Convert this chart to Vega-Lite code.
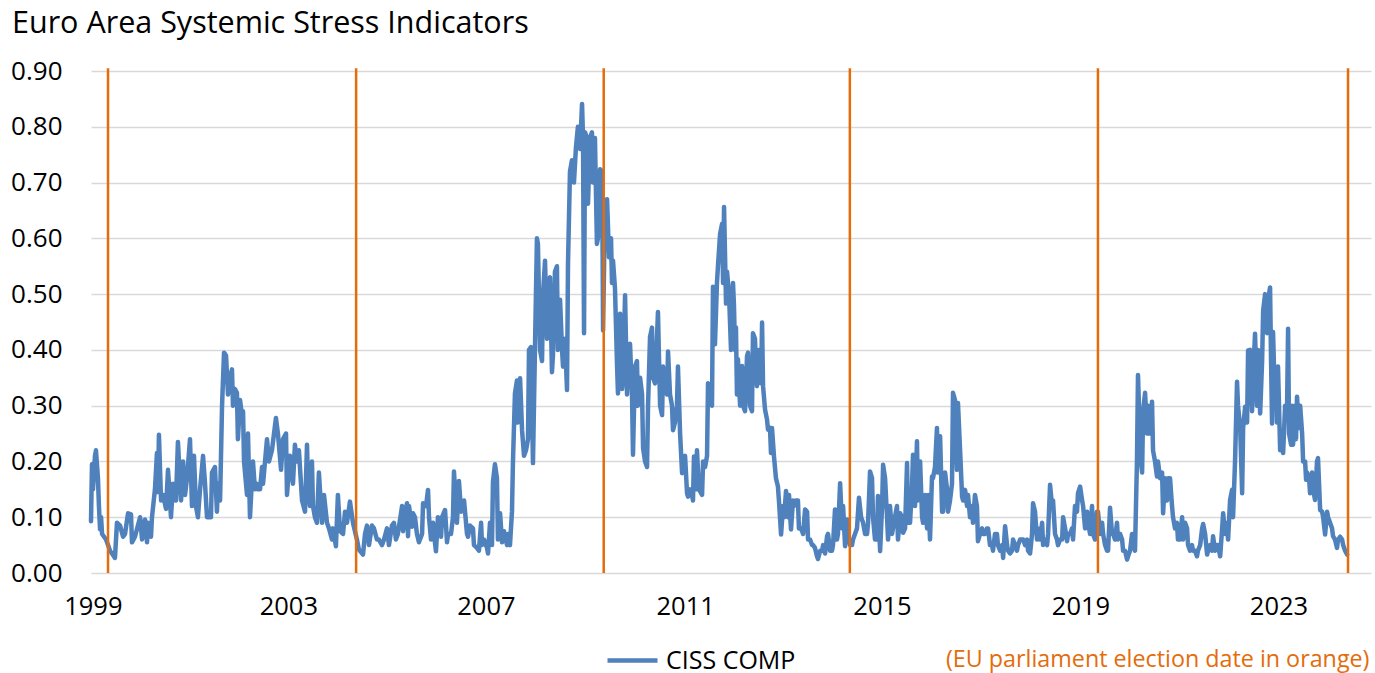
{
  "$schema": "https://vega.github.io/schema/vega-lite/v6.json",
  "width": 1280,
  "height": 502,
  "autosize": {"type": "none"},
  "padding": {"left": 91, "top": 71, "right": 4, "bottom": 100},
  "background": "white",
  "config": {
    "view": {"stroke": null},
    "font": "Open Sans",
    "axis": {"labelFont": "Open Sans", "labelColor": "#000000", "titleFont": "Open Sans"},
    "legend": {"labelFont": "Open Sans"}
  },
  "title": {
    "text": "Euro Area Systemic Stress Indicators",
    "anchor": "start",
    "frame": "group",
    "font": "Open Sans",
    "fontSize": 30.5,
    "fontWeight": "normal",
    "color": "#000000",
    "dx": -79,
    "offset": 19
  },
  "datasets": {
    "ciss": [
      {"year": 1999.097, "ciss": 0.093}, {"year": 1999.117, "ciss": 0.195}, {"year": 1999.137, "ciss": 0.15}, {"year": 1999.177, "ciss": 0.21}, {"year": 1999.197, "ciss": 0.22}, {"year": 1999.237, "ciss": 0.17}, {"year": 1999.257, "ciss": 0.12}, {"year": 1999.28, "ciss": 0.078}, {"year": 1999.3, "ciss": 0.1}, {"year": 1999.32, "ciss": 0.07}, {"year": 1999.36, "ciss": 0.065}, {"year": 1999.4, "ciss": 0.06}, {"year": 1999.44, "ciss": 0.05}, {"year": 1999.48, "ciss": 0.04}, {"year": 1999.52, "ciss": 0.035}, {"year": 1999.58, "ciss": 0.027}, {"year": 1999.62, "ciss": 0.09}, {"year": 1999.683, "ciss": 0.085}, {"year": 1999.743, "ciss": 0.065}, {"year": 1999.783, "ciss": 0.07}, {"year": 1999.843, "ciss": 0.107}, {"year": 1999.903, "ciss": 0.105}, {"year": 1999.923, "ciss": 0.055}, {"year": 1999.983, "ciss": 0.065},
      {"year": 2000.086, "ciss": 0.1}, {"year": 2000.126, "ciss": 0.06}, {"year": 2000.186, "ciss": 0.096}, {"year": 2000.226, "ciss": 0.055}, {"year": 2000.246, "ciss": 0.09}, {"year": 2000.306, "ciss": 0.065}, {"year": 2000.326, "ciss": 0.1}, {"year": 2000.386, "ciss": 0.15}, {"year": 2000.426, "ciss": 0.215}, {"year": 2000.446, "ciss": 0.145}, {"year": 2000.466, "ciss": 0.248}, {"year": 2000.509, "ciss": 0.13}, {"year": 2000.549, "ciss": 0.14}, {"year": 2000.609, "ciss": 0.115}, {"year": 2000.649, "ciss": 0.185}, {"year": 2000.709, "ciss": 0.1}, {"year": 2000.749, "ciss": 0.16}, {"year": 2000.809, "ciss": 0.13}, {"year": 2000.849, "ciss": 0.235}, {"year": 2000.912, "ciss": 0.13}, {"year": 2000.952, "ciss": 0.2}, {"year": 2000.992, "ciss": 0.14},
      {"year": 2001.032, "ciss": 0.17}, {"year": 2001.092, "ciss": 0.24}, {"year": 2001.132, "ciss": 0.12}, {"year": 2001.172, "ciss": 0.21}, {"year": 2001.212, "ciss": 0.12}, {"year": 2001.252, "ciss": 0.1}, {"year": 2001.295, "ciss": 0.15}, {"year": 2001.355, "ciss": 0.21}, {"year": 2001.395, "ciss": 0.16}, {"year": 2001.435, "ciss": 0.1}, {"year": 2001.515, "ciss": 0.1}, {"year": 2001.535, "ciss": 0.18}, {"year": 2001.595, "ciss": 0.19}, {"year": 2001.635, "ciss": 0.11}, {"year": 2001.655, "ciss": 0.16}, {"year": 2001.698, "ciss": 0.13}, {"year": 2001.738, "ciss": 0.3}, {"year": 2001.778, "ciss": 0.395}, {"year": 2001.818, "ciss": 0.39}, {"year": 2001.858, "ciss": 0.32}, {"year": 2001.898, "ciss": 0.35}, {"year": 2001.938, "ciss": 0.365}, {"year": 2001.958, "ciss": 0.3}, {"year": 2001.998, "ciss": 0.33},
      {"year": 2002.038, "ciss": 0.323}, {"year": 2002.058, "ciss": 0.24}, {"year": 2002.101, "ciss": 0.31}, {"year": 2002.141, "ciss": 0.28}, {"year": 2002.161, "ciss": 0.29}, {"year": 2002.181, "ciss": 0.2}, {"year": 2002.241, "ciss": 0.14}, {"year": 2002.261, "ciss": 0.25}, {"year": 2002.301, "ciss": 0.1}, {"year": 2002.361, "ciss": 0.2}, {"year": 2002.401, "ciss": 0.15}, {"year": 2002.441, "ciss": 0.16}, {"year": 2002.461, "ciss": 0.15}, {"year": 2002.504, "ciss": 0.15}, {"year": 2002.544, "ciss": 0.19}, {"year": 2002.564, "ciss": 0.16}, {"year": 2002.644, "ciss": 0.24}, {"year": 2002.684, "ciss": 0.2}, {"year": 2002.744, "ciss": 0.22}, {"year": 2002.824, "ciss": 0.278}, {"year": 2002.864, "ciss": 0.25}, {"year": 2002.927, "ciss": 0.185}, {"year": 2002.967, "ciss": 0.24},
      {"year": 2003.027, "ciss": 0.25}, {"year": 2003.047, "ciss": 0.14}, {"year": 2003.107, "ciss": 0.21}, {"year": 2003.167, "ciss": 0.16}, {"year": 2003.207, "ciss": 0.23}, {"year": 2003.247, "ciss": 0.2}, {"year": 2003.287, "ciss": 0.22}, {"year": 2003.35, "ciss": 0.13}, {"year": 2003.41, "ciss": 0.11}, {"year": 2003.45, "ciss": 0.23}, {"year": 2003.47, "ciss": 0.16}, {"year": 2003.51, "ciss": 0.12}, {"year": 2003.55, "ciss": 0.2}, {"year": 2003.57, "ciss": 0.12}, {"year": 2003.61, "ciss": 0.1}, {"year": 2003.65, "ciss": 0.09}, {"year": 2003.69, "ciss": 0.18}, {"year": 2003.753, "ciss": 0.09}, {"year": 2003.793, "ciss": 0.14}, {"year": 2003.853, "ciss": 0.09}, {"year": 2003.893, "ciss": 0.08}, {"year": 2003.953, "ciss": 0.06}, {"year": 2003.973, "ciss": 0.08},
      {"year": 2004.033, "ciss": 0.048}, {"year": 2004.073, "ciss": 0.14}, {"year": 2004.116, "ciss": 0.075}, {"year": 2004.176, "ciss": 0.07}, {"year": 2004.216, "ciss": 0.11}, {"year": 2004.256, "ciss": 0.09}, {"year": 2004.316, "ciss": 0.128}, {"year": 2004.376, "ciss": 0.09}, {"year": 2004.456, "ciss": 0.06}, {"year": 2004.496, "ciss": 0.042}, {"year": 2004.579, "ciss": 0.033}, {"year": 2004.619, "ciss": 0.07}, {"year": 2004.659, "ciss": 0.085}, {"year": 2004.699, "ciss": 0.05}, {"year": 2004.759, "ciss": 0.085}, {"year": 2004.799, "ciss": 0.08}, {"year": 2004.859, "ciss": 0.06}, {"year": 2004.899, "ciss": 0.06}, {"year": 2004.962, "ciss": 0.05},
      {"year": 2005.002, "ciss": 0.06}, {"year": 2005.062, "ciss": 0.08}, {"year": 2005.102, "ciss": 0.05}, {"year": 2005.162, "ciss": 0.085}, {"year": 2005.202, "ciss": 0.09}, {"year": 2005.242, "ciss": 0.06}, {"year": 2005.282, "ciss": 0.07}, {"year": 2005.366, "ciss": 0.12}, {"year": 2005.386, "ciss": 0.075}, {"year": 2005.426, "ciss": 0.11}, {"year": 2005.466, "ciss": 0.125}, {"year": 2005.486, "ciss": 0.066}, {"year": 2005.506, "ciss": 0.12}, {"year": 2005.566, "ciss": 0.083}, {"year": 2005.586, "ciss": 0.107}, {"year": 2005.626, "ciss": 0.1}, {"year": 2005.666, "ciss": 0.07}, {"year": 2005.706, "ciss": 0.055}, {"year": 2005.769, "ciss": 0.07}, {"year": 2005.789, "ciss": 0.125}, {"year": 2005.849, "ciss": 0.12}, {"year": 2005.889, "ciss": 0.149}, {"year": 2005.909, "ciss": 0.1}, {"year": 2005.949, "ciss": 0.06}, {"year": 2005.989, "ciss": 0.09},
      {"year": 2006.009, "ciss": 0.07}, {"year": 2006.049, "ciss": 0.039}, {"year": 2006.089, "ciss": 0.1}, {"year": 2006.152, "ciss": 0.065}, {"year": 2006.172, "ciss": 0.1}, {"year": 2006.232, "ciss": 0.113}, {"year": 2006.272, "ciss": 0.055}, {"year": 2006.292, "ciss": 0.07}, {"year": 2006.352, "ciss": 0.07}, {"year": 2006.392, "ciss": 0.1}, {"year": 2006.412, "ciss": 0.182}, {"year": 2006.472, "ciss": 0.09}, {"year": 2006.512, "ciss": 0.165}, {"year": 2006.555, "ciss": 0.11}, {"year": 2006.615, "ciss": 0.13}, {"year": 2006.675, "ciss": 0.07}, {"year": 2006.695, "ciss": 0.065}, {"year": 2006.735, "ciss": 0.085}, {"year": 2006.795, "ciss": 0.08}, {"year": 2006.815, "ciss": 0.05}, {"year": 2006.875, "ciss": 0.045}, {"year": 2006.915, "ciss": 0.04}, {"year": 2006.958, "ciss": 0.09}, {"year": 2006.978, "ciss": 0.05},
      {"year": 2007.018, "ciss": 0.06}, {"year": 2007.078, "ciss": 0.045}, {"year": 2007.098, "ciss": 0.035}, {"year": 2007.138, "ciss": 0.09}, {"year": 2007.178, "ciss": 0.05}, {"year": 2007.198, "ciss": 0.164}, {"year": 2007.238, "ciss": 0.195}, {"year": 2007.278, "ciss": 0.17}, {"year": 2007.298, "ciss": 0.06}, {"year": 2007.341, "ciss": 0.107}, {"year": 2007.381, "ciss": 0.055}, {"year": 2007.421, "ciss": 0.075}, {"year": 2007.481, "ciss": 0.05}, {"year": 2007.501, "ciss": 0.07}, {"year": 2007.541, "ciss": 0.05}, {"year": 2007.581, "ciss": 0.11}, {"year": 2007.601, "ciss": 0.2}, {"year": 2007.641, "ciss": 0.322}, {"year": 2007.681, "ciss": 0.345}, {"year": 2007.701, "ciss": 0.27}, {"year": 2007.744, "ciss": 0.349}, {"year": 2007.784, "ciss": 0.256}, {"year": 2007.824, "ciss": 0.21}, {"year": 2007.864, "ciss": 0.22}, {"year": 2007.904, "ciss": 0.24}, {"year": 2007.924, "ciss": 0.4}, {"year": 2007.964, "ciss": 0.405},
      {"year": 2008.004, "ciss": 0.197}, {"year": 2008.044, "ciss": 0.4}, {"year": 2008.084, "ciss": 0.6}, {"year": 2008.104, "ciss": 0.59}, {"year": 2008.147, "ciss": 0.4}, {"year": 2008.187, "ciss": 0.38}, {"year": 2008.207, "ciss": 0.5}, {"year": 2008.247, "ciss": 0.56}, {"year": 2008.287, "ciss": 0.42}, {"year": 2008.307, "ciss": 0.52}, {"year": 2008.347, "ciss": 0.53}, {"year": 2008.387, "ciss": 0.36}, {"year": 2008.407, "ciss": 0.39}, {"year": 2008.447, "ciss": 0.54}, {"year": 2008.487, "ciss": 0.55}, {"year": 2008.507, "ciss": 0.4}, {"year": 2008.55, "ciss": 0.49}, {"year": 2008.59, "ciss": 0.4}, {"year": 2008.61, "ciss": 0.37}, {"year": 2008.65, "ciss": 0.42}, {"year": 2008.69, "ciss": 0.328}, {"year": 2008.71, "ciss": 0.555}, {"year": 2008.75, "ciss": 0.72}, {"year": 2008.79, "ciss": 0.74}, {"year": 2008.81, "ciss": 0.72}, {"year": 2008.83, "ciss": 0.7}, {"year": 2008.87, "ciss": 0.763}, {"year": 2008.91, "ciss": 0.8}, {"year": 2008.953, "ciss": 0.76}, {"year": 2008.993, "ciss": 0.841},
      {"year": 2009.013, "ciss": 0.78}, {"year": 2009.033, "ciss": 0.43}, {"year": 2009.053, "ciss": 0.79}, {"year": 2009.093, "ciss": 0.78}, {"year": 2009.113, "ciss": 0.662}, {"year": 2009.153, "ciss": 0.78}, {"year": 2009.193, "ciss": 0.79}, {"year": 2009.213, "ciss": 0.7}, {"year": 2009.253, "ciss": 0.78}, {"year": 2009.293, "ciss": 0.59}, {"year": 2009.313, "ciss": 0.6}, {"year": 2009.357, "ciss": 0.724}, {"year": 2009.397, "ciss": 0.72}, {"year": 2009.417, "ciss": 0.435}, {"year": 2009.457, "ciss": 0.668}, {"year": 2009.497, "ciss": 0.67}, {"year": 2009.537, "ciss": 0.566}, {"year": 2009.577, "ciss": 0.6}, {"year": 2009.597, "ciss": 0.52}, {"year": 2009.617, "ciss": 0.56}, {"year": 2009.657, "ciss": 0.51}, {"year": 2009.697, "ciss": 0.376}, {"year": 2009.717, "ciss": 0.322}, {"year": 2009.76, "ciss": 0.465}, {"year": 2009.8, "ciss": 0.33}, {"year": 2009.82, "ciss": 0.35}, {"year": 2009.86, "ciss": 0.498}, {"year": 2009.9, "ciss": 0.32}, {"year": 2009.92, "ciss": 0.37}, {"year": 2009.96, "ciss": 0.411},
      {"year": 2010.0, "ciss": 0.32}, {"year": 2010.02, "ciss": 0.212}, {"year": 2010.06, "ciss": 0.37}, {"year": 2010.1, "ciss": 0.38}, {"year": 2010.12, "ciss": 0.3}, {"year": 2010.163, "ciss": 0.35}, {"year": 2010.203, "ciss": 0.32}, {"year": 2010.223, "ciss": 0.224}, {"year": 2010.263, "ciss": 0.2}, {"year": 2010.303, "ciss": 0.19}, {"year": 2010.323, "ciss": 0.3}, {"year": 2010.363, "ciss": 0.423}, {"year": 2010.403, "ciss": 0.44}, {"year": 2010.423, "ciss": 0.35}, {"year": 2010.463, "ciss": 0.34}, {"year": 2010.503, "ciss": 0.42}, {"year": 2010.523, "ciss": 0.468}, {"year": 2010.566, "ciss": 0.3}, {"year": 2010.606, "ciss": 0.283}, {"year": 2010.626, "ciss": 0.37}, {"year": 2010.666, "ciss": 0.33}, {"year": 2010.706, "ciss": 0.32}, {"year": 2010.726, "ciss": 0.397}, {"year": 2010.766, "ciss": 0.32}, {"year": 2010.806, "ciss": 0.3}, {"year": 2010.826, "ciss": 0.256}, {"year": 2010.866, "ciss": 0.27}, {"year": 2010.906, "ciss": 0.3}, {"year": 2010.926, "ciss": 0.37}, {"year": 2010.969, "ciss": 0.25},
      {"year": 2011.009, "ciss": 0.179}, {"year": 2011.029, "ciss": 0.2}, {"year": 2011.069, "ciss": 0.21}, {"year": 2011.109, "ciss": 0.143}, {"year": 2011.129, "ciss": 0.137}, {"year": 2011.169, "ciss": 0.15}, {"year": 2011.209, "ciss": 0.14}, {"year": 2011.229, "ciss": 0.13}, {"year": 2011.249, "ciss": 0.209}, {"year": 2011.289, "ciss": 0.15}, {"year": 2011.309, "ciss": 0.22}, {"year": 2011.349, "ciss": 0.15}, {"year": 2011.412, "ciss": 0.14}, {"year": 2011.432, "ciss": 0.2}, {"year": 2011.472, "ciss": 0.19}, {"year": 2011.512, "ciss": 0.21}, {"year": 2011.532, "ciss": 0.34}, {"year": 2011.572, "ciss": 0.33}, {"year": 2011.612, "ciss": 0.3}, {"year": 2011.632, "ciss": 0.513}, {"year": 2011.672, "ciss": 0.41}, {"year": 2011.712, "ciss": 0.52}, {"year": 2011.732, "ciss": 0.55}, {"year": 2011.775, "ciss": 0.608}, {"year": 2011.815, "ciss": 0.626}, {"year": 2011.835, "ciss": 0.52}, {"year": 2011.855, "ciss": 0.656}, {"year": 2011.895, "ciss": 0.483}, {"year": 2011.915, "ciss": 0.54}, {"year": 2011.955, "ciss": 0.5}, {"year": 2011.995, "ciss": 0.4},
      {"year": 2012.035, "ciss": 0.52}, {"year": 2012.055, "ciss": 0.48}, {"year": 2012.075, "ciss": 0.4}, {"year": 2012.095, "ciss": 0.44}, {"year": 2012.115, "ciss": 0.32}, {"year": 2012.135, "ciss": 0.383}, {"year": 2012.178, "ciss": 0.3}, {"year": 2012.218, "ciss": 0.371}, {"year": 2012.238, "ciss": 0.3}, {"year": 2012.278, "ciss": 0.29}, {"year": 2012.318, "ciss": 0.389}, {"year": 2012.338, "ciss": 0.395}, {"year": 2012.378, "ciss": 0.3}, {"year": 2012.418, "ciss": 0.29}, {"year": 2012.438, "ciss": 0.43}, {"year": 2012.478, "ciss": 0.42}, {"year": 2012.518, "ciss": 0.335}, {"year": 2012.558, "ciss": 0.4}, {"year": 2012.601, "ciss": 0.34}, {"year": 2012.621, "ciss": 0.449}, {"year": 2012.641, "ciss": 0.335}, {"year": 2012.681, "ciss": 0.293}, {"year": 2012.721, "ciss": 0.275}, {"year": 2012.741, "ciss": 0.257}, {"year": 2012.781, "ciss": 0.26}, {"year": 2012.801, "ciss": 0.215}, {"year": 2012.821, "ciss": 0.26}, {"year": 2012.861, "ciss": 0.209}, {"year": 2012.901, "ciss": 0.17}, {"year": 2012.941, "ciss": 0.155}, {"year": 2012.961, "ciss": 0.13},
      {"year": 2013.004, "ciss": 0.069}, {"year": 2013.044, "ciss": 0.12}, {"year": 2013.064, "ciss": 0.1}, {"year": 2013.104, "ciss": 0.147}, {"year": 2013.144, "ciss": 0.1}, {"year": 2013.164, "ciss": 0.14}, {"year": 2013.204, "ciss": 0.078}, {"year": 2013.244, "ciss": 0.13}, {"year": 2013.264, "ciss": 0.12}, {"year": 2013.304, "ciss": 0.13}, {"year": 2013.344, "ciss": 0.13}, {"year": 2013.364, "ciss": 0.08}, {"year": 2013.408, "ciss": 0.08}, {"year": 2013.448, "ciss": 0.07}, {"year": 2013.488, "ciss": 0.114}, {"year": 2013.528, "ciss": 0.11}, {"year": 2013.548, "ciss": 0.06}, {"year": 2013.588, "ciss": 0.06}, {"year": 2013.628, "ciss": 0.05}, {"year": 2013.648, "ciss": 0.05}, {"year": 2013.688, "ciss": 0.045}, {"year": 2013.728, "ciss": 0.03}, {"year": 2013.748, "ciss": 0.025}, {"year": 2013.791, "ciss": 0.04}, {"year": 2013.831, "ciss": 0.04}, {"year": 2013.851, "ciss": 0.05}, {"year": 2013.891, "ciss": 0.035}, {"year": 2013.931, "ciss": 0.066}, {"year": 2013.951, "ciss": 0.07}, {"year": 2013.991, "ciss": 0.04},
      {"year": 2014.031, "ciss": 0.04}, {"year": 2014.051, "ciss": 0.05}, {"year": 2014.091, "ciss": 0.114}, {"year": 2014.131, "ciss": 0.06}, {"year": 2014.151, "ciss": 0.07}, {"year": 2014.194, "ciss": 0.161}, {"year": 2014.234, "ciss": 0.08}, {"year": 2014.254, "ciss": 0.12}, {"year": 2014.294, "ciss": 0.048}, {"year": 2014.334, "ciss": 0.096}, {"year": 2014.354, "ciss": 0.07}, {"year": 2014.394, "ciss": 0.05}, {"year": 2014.434, "ciss": 0.05}, {"year": 2014.454, "ciss": 0.06}, {"year": 2014.494, "ciss": 0.07}, {"year": 2014.534, "ciss": 0.08}, {"year": 2014.574, "ciss": 0.135}, {"year": 2014.617, "ciss": 0.1}, {"year": 2014.657, "ciss": 0.09}, {"year": 2014.697, "ciss": 0.07}, {"year": 2014.737, "ciss": 0.07}, {"year": 2014.757, "ciss": 0.09}, {"year": 2014.797, "ciss": 0.182}, {"year": 2014.837, "ciss": 0.17}, {"year": 2014.857, "ciss": 0.1}, {"year": 2014.897, "ciss": 0.06}, {"year": 2014.937, "ciss": 0.06}, {"year": 2014.957, "ciss": 0.138},
      {"year": 2015.0, "ciss": 0.039}, {"year": 2015.04, "ciss": 0.12}, {"year": 2015.06, "ciss": 0.194}, {"year": 2015.1, "ciss": 0.17}, {"year": 2015.14, "ciss": 0.1}, {"year": 2015.16, "ciss": 0.06}, {"year": 2015.2, "ciss": 0.12}, {"year": 2015.24, "ciss": 0.07}, {"year": 2015.3, "ciss": 0.1}, {"year": 2015.34, "ciss": 0.12}, {"year": 2015.36, "ciss": 0.06}, {"year": 2015.403, "ciss": 0.107}, {"year": 2015.443, "ciss": 0.1}, {"year": 2015.463, "ciss": 0.072}, {"year": 2015.503, "ciss": 0.08}, {"year": 2015.543, "ciss": 0.197}, {"year": 2015.563, "ciss": 0.09}, {"year": 2015.603, "ciss": 0.09}, {"year": 2015.643, "ciss": 0.155}, {"year": 2015.663, "ciss": 0.212}, {"year": 2015.703, "ciss": 0.12}, {"year": 2015.743, "ciss": 0.236}, {"year": 2015.763, "ciss": 0.13}, {"year": 2015.806, "ciss": 0.2}, {"year": 2015.846, "ciss": 0.1}, {"year": 2015.866, "ciss": 0.09}, {"year": 2015.906, "ciss": 0.14}, {"year": 2015.946, "ciss": 0.08}, {"year": 2015.966, "ciss": 0.14},
      {"year": 2016.006, "ciss": 0.06}, {"year": 2016.046, "ciss": 0.173}, {"year": 2016.066, "ciss": 0.17}, {"year": 2016.106, "ciss": 0.19}, {"year": 2016.146, "ciss": 0.26}, {"year": 2016.166, "ciss": 0.18}, {"year": 2016.209, "ciss": 0.245}, {"year": 2016.249, "ciss": 0.11}, {"year": 2016.269, "ciss": 0.11}, {"year": 2016.309, "ciss": 0.18}, {"year": 2016.349, "ciss": 0.15}, {"year": 2016.369, "ciss": 0.11}, {"year": 2016.409, "ciss": 0.13}, {"year": 2016.449, "ciss": 0.16}, {"year": 2016.469, "ciss": 0.323}, {"year": 2016.509, "ciss": 0.31}, {"year": 2016.549, "ciss": 0.185}, {"year": 2016.569, "ciss": 0.305}, {"year": 2016.612, "ciss": 0.22}, {"year": 2016.652, "ciss": 0.137}, {"year": 2016.672, "ciss": 0.13}, {"year": 2016.712, "ciss": 0.149}, {"year": 2016.752, "ciss": 0.12}, {"year": 2016.772, "ciss": 0.14}, {"year": 2016.812, "ciss": 0.1}, {"year": 2016.852, "ciss": 0.12}, {"year": 2016.872, "ciss": 0.09}, {"year": 2016.912, "ciss": 0.14}, {"year": 2016.952, "ciss": 0.12}, {"year": 2016.972, "ciss": 0.057},
      {"year": 2017.015, "ciss": 0.07}, {"year": 2017.055, "ciss": 0.08}, {"year": 2017.075, "ciss": 0.07}, {"year": 2017.115, "ciss": 0.07}, {"year": 2017.155, "ciss": 0.08}, {"year": 2017.175, "ciss": 0.08}, {"year": 2017.215, "ciss": 0.05}, {"year": 2017.255, "ciss": 0.05}, {"year": 2017.275, "ciss": 0.04}, {"year": 2017.315, "ciss": 0.07}, {"year": 2017.355, "ciss": 0.07}, {"year": 2017.375, "ciss": 0.05}, {"year": 2017.419, "ciss": 0.04}, {"year": 2017.459, "ciss": 0.05}, {"year": 2017.479, "ciss": 0.027}, {"year": 2017.519, "ciss": 0.084}, {"year": 2017.559, "ciss": 0.05}, {"year": 2017.579, "ciss": 0.04}, {"year": 2017.619, "ciss": 0.035}, {"year": 2017.659, "ciss": 0.04}, {"year": 2017.679, "ciss": 0.06}, {"year": 2017.719, "ciss": 0.05}, {"year": 2017.759, "ciss": 0.04}, {"year": 2017.779, "ciss": 0.05}, {"year": 2017.822, "ciss": 0.06}, {"year": 2017.862, "ciss": 0.06}, {"year": 2017.882, "ciss": 0.06}, {"year": 2017.922, "ciss": 0.05}, {"year": 2017.962, "ciss": 0.06}, {"year": 2017.982, "ciss": 0.04},
      {"year": 2018.022, "ciss": 0.035}, {"year": 2018.062, "ciss": 0.07}, {"year": 2018.082, "ciss": 0.125}, {"year": 2018.122, "ciss": 0.11}, {"year": 2018.162, "ciss": 0.06}, {"year": 2018.182, "ciss": 0.08}, {"year": 2018.225, "ciss": 0.06}, {"year": 2018.265, "ciss": 0.09}, {"year": 2018.285, "ciss": 0.05}, {"year": 2018.325, "ciss": 0.06}, {"year": 2018.365, "ciss": 0.05}, {"year": 2018.385, "ciss": 0.07}, {"year": 2018.425, "ciss": 0.158}, {"year": 2018.465, "ciss": 0.12}, {"year": 2018.485, "ciss": 0.13}, {"year": 2018.525, "ciss": 0.07}, {"year": 2018.565, "ciss": 0.06}, {"year": 2018.585, "ciss": 0.05}, {"year": 2018.628, "ciss": 0.06}, {"year": 2018.668, "ciss": 0.06}, {"year": 2018.688, "ciss": 0.1}, {"year": 2018.728, "ciss": 0.08}, {"year": 2018.768, "ciss": 0.057}, {"year": 2018.788, "ciss": 0.07}, {"year": 2018.828, "ciss": 0.07}, {"year": 2018.868, "ciss": 0.08}, {"year": 2018.888, "ciss": 0.06}, {"year": 2018.928, "ciss": 0.12}, {"year": 2018.968, "ciss": 0.11}, {"year": 2018.988, "ciss": 0.143},
      {"year": 2019.031, "ciss": 0.155}, {"year": 2019.071, "ciss": 0.13}, {"year": 2019.091, "ciss": 0.12}, {"year": 2019.131, "ciss": 0.08}, {"year": 2019.171, "ciss": 0.11}, {"year": 2019.191, "ciss": 0.09}, {"year": 2019.231, "ciss": 0.07}, {"year": 2019.271, "ciss": 0.12}, {"year": 2019.291, "ciss": 0.07}, {"year": 2019.331, "ciss": 0.06}, {"year": 2019.371, "ciss": 0.11}, {"year": 2019.391, "ciss": 0.11}, {"year": 2019.434, "ciss": 0.07}, {"year": 2019.474, "ciss": 0.09}, {"year": 2019.494, "ciss": 0.07}, {"year": 2019.534, "ciss": 0.05}, {"year": 2019.574, "ciss": 0.04}, {"year": 2019.594, "ciss": 0.04}, {"year": 2019.634, "ciss": 0.117}, {"year": 2019.674, "ciss": 0.07}, {"year": 2019.694, "ciss": 0.07}, {"year": 2019.734, "ciss": 0.06}, {"year": 2019.774, "ciss": 0.09}, {"year": 2019.794, "ciss": 0.06}, {"year": 2019.837, "ciss": 0.07}, {"year": 2019.877, "ciss": 0.06}, {"year": 2019.897, "ciss": 0.04}, {"year": 2019.937, "ciss": 0.04}, {"year": 2019.977, "ciss": 0.024}, {"year": 2019.997, "ciss": 0.03},
      {"year": 2020.037, "ciss": 0.04}, {"year": 2020.077, "ciss": 0.07}, {"year": 2020.097, "ciss": 0.05}, {"year": 2020.137, "ciss": 0.04}, {"year": 2020.177, "ciss": 0.203}, {"year": 2020.197, "ciss": 0.355}, {"year": 2020.217, "ciss": 0.3}, {"year": 2020.26, "ciss": 0.197}, {"year": 2020.28, "ciss": 0.18}, {"year": 2020.3, "ciss": 0.29}, {"year": 2020.34, "ciss": 0.323}, {"year": 2020.38, "ciss": 0.25}, {"year": 2020.4, "ciss": 0.3}, {"year": 2020.44, "ciss": 0.25}, {"year": 2020.48, "ciss": 0.307}, {"year": 2020.5, "ciss": 0.22}, {"year": 2020.54, "ciss": 0.2}, {"year": 2020.58, "ciss": 0.173}, {"year": 2020.6, "ciss": 0.2}, {"year": 2020.643, "ciss": 0.17}, {"year": 2020.683, "ciss": 0.18}, {"year": 2020.703, "ciss": 0.107}, {"year": 2020.743, "ciss": 0.17}, {"year": 2020.783, "ciss": 0.13}, {"year": 2020.803, "ciss": 0.17}, {"year": 2020.843, "ciss": 0.17}, {"year": 2020.883, "ciss": 0.12}, {"year": 2020.903, "ciss": 0.1}, {"year": 2020.943, "ciss": 0.08}, {"year": 2020.983, "ciss": 0.09},
      {"year": 2021.003, "ciss": 0.06}, {"year": 2021.046, "ciss": 0.06}, {"year": 2021.086, "ciss": 0.1}, {"year": 2021.106, "ciss": 0.06}, {"year": 2021.146, "ciss": 0.09}, {"year": 2021.186, "ciss": 0.08}, {"year": 2021.206, "ciss": 0.05}, {"year": 2021.246, "ciss": 0.04}, {"year": 2021.286, "ciss": 0.05}, {"year": 2021.306, "ciss": 0.04}, {"year": 2021.346, "ciss": 0.04}, {"year": 2021.386, "ciss": 0.03}, {"year": 2021.406, "ciss": 0.04}, {"year": 2021.45, "ciss": 0.05}, {"year": 2021.49, "ciss": 0.08}, {"year": 2021.51, "ciss": 0.088}, {"year": 2021.55, "ciss": 0.07}, {"year": 2021.59, "ciss": 0.033}, {"year": 2021.61, "ciss": 0.04}, {"year": 2021.65, "ciss": 0.05}, {"year": 2021.69, "ciss": 0.04}, {"year": 2021.71, "ciss": 0.066}, {"year": 2021.75, "ciss": 0.04}, {"year": 2021.79, "ciss": 0.05}, {"year": 2021.81, "ciss": 0.05}, {"year": 2021.853, "ciss": 0.03}, {"year": 2021.893, "ciss": 0.08}, {"year": 2021.913, "ciss": 0.107}, {"year": 2021.953, "ciss": 0.07}, {"year": 2021.993, "ciss": 0.09},
      {"year": 2022.013, "ciss": 0.06}, {"year": 2022.053, "ciss": 0.131}, {"year": 2022.093, "ciss": 0.149}, {"year": 2022.113, "ciss": 0.1}, {"year": 2022.153, "ciss": 0.2}, {"year": 2022.193, "ciss": 0.343}, {"year": 2022.213, "ciss": 0.3}, {"year": 2022.256, "ciss": 0.262}, {"year": 2022.296, "ciss": 0.143}, {"year": 2022.316, "ciss": 0.26}, {"year": 2022.356, "ciss": 0.298}, {"year": 2022.396, "ciss": 0.27}, {"year": 2022.416, "ciss": 0.399}, {"year": 2022.456, "ciss": 0.4}, {"year": 2022.496, "ciss": 0.29}, {"year": 2022.516, "ciss": 0.35}, {"year": 2022.556, "ciss": 0.429}, {"year": 2022.596, "ciss": 0.3}, {"year": 2022.616, "ciss": 0.4}, {"year": 2022.659, "ciss": 0.286}, {"year": 2022.699, "ciss": 0.381}, {"year": 2022.719, "ciss": 0.47}, {"year": 2022.759, "ciss": 0.5}, {"year": 2022.799, "ciss": 0.43}, {"year": 2022.819, "ciss": 0.49}, {"year": 2022.859, "ciss": 0.512}, {"year": 2022.879, "ciss": 0.38}, {"year": 2022.899, "ciss": 0.268}, {"year": 2022.919, "ciss": 0.432}, {"year": 2022.959, "ciss": 0.3}, {"year": 2022.979, "ciss": 0.34}, {"year": 2022.999, "ciss": 0.27},
      {"year": 2023.019, "ciss": 0.37}, {"year": 2023.062, "ciss": 0.22}, {"year": 2023.102, "ciss": 0.25}, {"year": 2023.122, "ciss": 0.215}, {"year": 2023.162, "ciss": 0.3}, {"year": 2023.202, "ciss": 0.3}, {"year": 2023.222, "ciss": 0.438}, {"year": 2023.242, "ciss": 0.25}, {"year": 2023.282, "ciss": 0.23}, {"year": 2023.302, "ciss": 0.3}, {"year": 2023.322, "ciss": 0.23}, {"year": 2023.362, "ciss": 0.3}, {"year": 2023.382, "ciss": 0.24}, {"year": 2023.402, "ciss": 0.316}, {"year": 2023.442, "ciss": 0.26}, {"year": 2023.465, "ciss": 0.3}, {"year": 2023.505, "ciss": 0.25}, {"year": 2023.525, "ciss": 0.2}, {"year": 2023.565, "ciss": 0.2}, {"year": 2023.585, "ciss": 0.167}, {"year": 2023.605, "ciss": 0.18}, {"year": 2023.645, "ciss": 0.17}, {"year": 2023.665, "ciss": 0.143}, {"year": 2023.705, "ciss": 0.18}, {"year": 2023.725, "ciss": 0.15}, {"year": 2023.765, "ciss": 0.131}, {"year": 2023.805, "ciss": 0.2}, {"year": 2023.825, "ciss": 0.206}, {"year": 2023.868, "ciss": 0.113}, {"year": 2023.908, "ciss": 0.11}, {"year": 2023.928, "ciss": 0.1}, {"year": 2023.968, "ciss": 0.069},
      {"year": 2024.008, "ciss": 0.11}, {"year": 2024.028, "ciss": 0.1}, {"year": 2024.068, "ciss": 0.09}, {"year": 2024.108, "ciss": 0.08}, {"year": 2024.128, "ciss": 0.066}, {"year": 2024.168, "ciss": 0.06}, {"year": 2024.208, "ciss": 0.045}, {"year": 2024.228, "ciss": 0.06}, {"year": 2024.271, "ciss": 0.065}, {"year": 2024.311, "ciss": 0.06}, {"year": 2024.331, "ciss": 0.05}, {"year": 2024.371, "ciss": 0.04}, {"year": 2024.411, "ciss": 0.033}
    ],
    "elections": [
      {"year": 1999.44, "label": "June 1999"},
      {"year": 2004.44, "label": "June 2004"},
      {"year": 2009.43, "label": "June 2009"},
      {"year": 2014.39, "label": "May 2014"},
      {"year": 2019.39, "label": "May 2019"},
      {"year": 2024.43, "label": "June 2024"}
    ]
  },
  "layer": [
    {
      "data": {"name": "ciss"},
      "mark": {"type": "line", "strokeWidth": 4.5, "strokeJoin": "round", "strokeCap": "round", "clip": false},
      "encoding": {
        "x": {
          "field": "year",
          "type": "quantitative",
          "scale": {"domain": [1999.097, 2024.893], "nice": false, "zero": false},
          "axis": {
            "values": [1999.134, 2003.074, 2007.056, 2011.072, 2015.038, 2019.039, 2023.029],
            "labelExpr": "floor(datum.value)",
            "labelFontSize": 25.5,
            "labelPadding": 21,
            "labelFlush": false,
            "labelOverlap": false,
            "ticks": false,
            "domain": false,
            "grid": false,
            "title": "(EU parliament election date in orange)",
            "titleColor": "#E46C0A",
            "titleFontSize": 23.3,
            "titleFontWeight": "normal",
            "titleAnchor": "end",
            "titleAlign": "right",
            "titleBaseline": "middle",
            "titleX": 1278,
            "titleY": 86
          }
        },
        "y": {
          "field": "ciss",
          "type": "quantitative",
          "scale": {"domain": [0, 0.9], "nice": false},
          "axis": {
            "values": [0, 0.1, 0.2, 0.3, 0.4, 0.5, 0.6, 0.7, 0.8, 0.9],
            "format": ".2f",
            "labelFontSize": 26,
            "labelPadding": 29,
            "ticks": false,
            "domain": false,
            "grid": true,
            "gridColor": "#D9D9D9",
            "gridWidth": 1.3,
            "title": null
          }
        },
        "color": {
          "datum": "CISS  COMP",
          "type": "nominal",
          "scale": {"range": ["#4F81BD"]},
          "legend": {
            "orient": "none",
            "legendX": 514,
            "legendY": 562,
            "title": null,
            "symbolType": "stroke",
            "symbolSize": 2500,
            "symbolStrokeWidth": 4.5,
            "labelFontSize": 25,
            "labelColor": "#000000",
            "labelOffset": 6
          }
        }
      }
    },
    {
      "data": {"name": "elections"},
      "mark": {"type": "rule", "color": "#E46C0A", "strokeWidth": 2.5, "clip": false},
      "encoding": {
        "x": {"field": "year", "type": "quantitative"},
        "y": {"datum": 0.905},
        "y2": {"datum": 0}
      }
    }
  ]
}
